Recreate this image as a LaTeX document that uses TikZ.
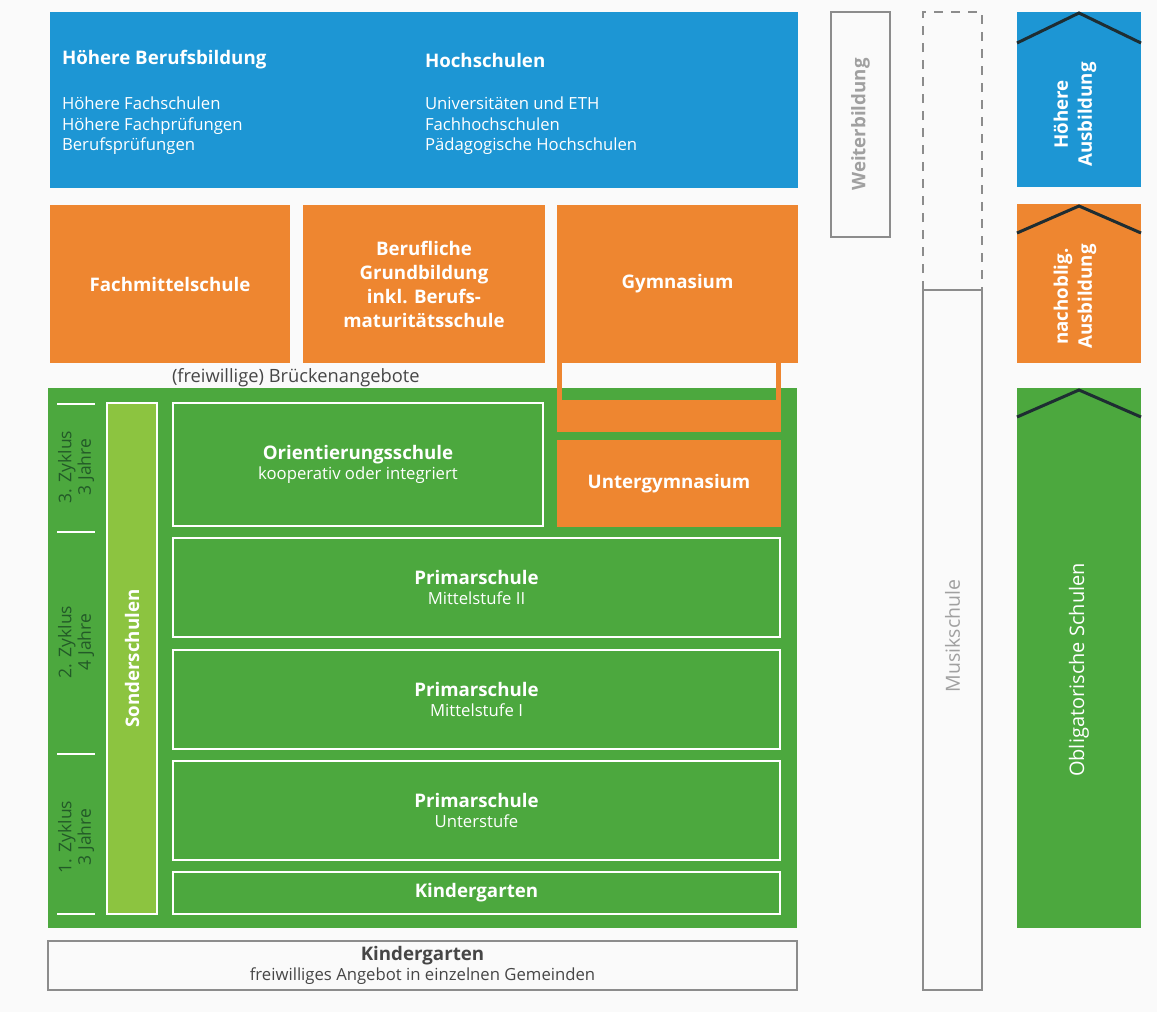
\documentclass[tikz,border=0pt]{standalone}
\usepackage{fontspec}
\setmainfont{Open Sans}
\usetikzlibrary{calc}
\definecolor{blau}{RGB}{29,150,212}
\definecolor{orange}{RGB}{238,134,48}
\definecolor{gruen}{RGB}{76,168,62}
\definecolor{hellgruen}{RGB}{140,196,64}
\definecolor{kante}{RGB}{30,45,50}
\definecolor{rand}{RGB}{140,140,140}
\definecolor{grautext}{RGB}{160,160,160}
\definecolor{dunkel}{RGB}{70,70,70}
\definecolor{zyklus}{RGB}{35,90,40}
\definecolor{papier}{RGB}{250,250,250}
\newcommand\kopf{\fontsize{18.7}{24}\selectfont\bfseries}
\newcommand\grund{\fontsize{16.7}{20.5}\selectfont}

\begin{document}
\begin{tikzpicture}[x=1pt,y=-1pt,
    every node/.style={inner sep=0pt, outer sep=0pt},
    feld/.style={fill=#1, text=white, align=center, font=\kopf},
    rahmen/.style={draw=white, line width=1.8pt, text=white, align=center, font=\grund},
    grau/.style={draw=rand, line width=1.4pt, fill=papier, align=center, font=\grund},
    hoch/.style={rotate=90, align=center},
    winkel/.style={draw=kante, line width=3pt}]
  \fill[papier] (0,0) rectangle (1157,1012);
  \useasboundingbox (0,0) rectangle (1157,1012);

  % Tertiaerstufe
  \node[feld=blau, minimum width=748, minimum height=176] (tertiaer) at (424,100) {};
  \node[anchor=west, text=white, font=\kopf] (hbb) at (62,60) {Höhere Berufsbildung};
  \node[anchor=west, text=white, font=\grund, align=left] (hbbliste) at (62,126)
    {Höhere Fachschulen\\Höhere Fachprüfungen\\Berufsprüfungen};
  \node[anchor=west, text=white, font=\kopf] (hs) at (425,60) {Hochschulen};
  \node[anchor=west, text=white, font=\grund, align=left] (hsliste) at (425,126)
    {Universitäten und ETH\\Fachhochschulen\\Pädagogische Hochschulen};

  % Sekundarstufe II
  \node[feld=orange, minimum width=240, minimum height=158] (fms) at (170,284) {Fachmittelschule};
  \node[feld=orange, minimum width=242, minimum height=158] (bgb) at (424,284)
    {Berufliche\\Grundbildung\\inkl. Berufs-\\maturitätsschule};
  \node[feld=orange, minimum width=241, minimum height=158] (gym) at (677.5,284) {Gymnasium};
  \node[anchor=west, text=dunkel, font=\fontsize{18.3}{22}\selectfont] (bruecke) at (172,378)
    {(freiwillige) Brückenangebote};

  % obligatorische Schulen
  \node[feld=gruen, minimum width=749, minimum height=540] (oblig) at (422.5,658) {};
  \fill[orange] (557,363) rectangle (562,432);
  \fill[orange] (776,363) rectangle (781,432);
  \fill[orange] (557,400) rectangle (781,432);
  \node[feld=orange, minimum width=224, minimum height=87] (ugym) at (669,483.5) {Untergymnasium};

  \node[rahmen, fill=hellgruen, rotate=90, minimum width=511, minimum height=50, font=\kopf]
    (sonder) at (132,658.5) {Sonderschulen};
  \foreach \t in {404,532,754,914}
    \draw[white, line width=1.8pt] (57,\t) -- (95,\t);
  \node[hoch, text=zyklus, font=\fontsize{17.5}{19.5}\selectfont] (z3) at (76,467) {3. Zyklus\\3 Jahre};
  \node[hoch, text=zyklus, font=\fontsize{17.5}{19.5}\selectfont] (z2) at (76,642) {2. Zyklus\\4 Jahre};
  \node[hoch, text=zyklus, font=\fontsize{17.5}{19.5}\selectfont] (z1) at (76,837) {1. Zyklus\\3 Jahre};

  \node[rahmen, minimum width=370, minimum height=123] (orient) at (358,464.5)
    {{\kopf Orientierungsschule}\\kooperativ oder integriert};
  \node[rahmen, minimum width=607, minimum height=99] (ms2) at (476.5,587.5)
    {{\kopf Primarschule}\\Mittelstufe II};
  \node[rahmen, minimum width=607, minimum height=99] (ms1) at (476.5,699.5)
    {{\kopf Primarschule}\\Mittelstufe I};
  \node[rahmen, minimum width=607, minimum height=99] (us) at (476.5,810.5)
    {{\kopf Primarschule}\\Unterstufe};
  \node[rahmen, minimum width=607, minimum height=42, font=\kopf] (kg) at (476.5,893) {Kindergarten};

  \node[grau, text=dunkel, minimum width=749, minimum height=49] (kiga) at (422.5,965.5)
    {{\kopf Kindergarten}\\freiwilliges Angebot in einzelnen Gemeinden};

  % Weiterbildung, Musikschule
  \node[grau, rotate=90, text=grautext, font=\kopf, minimum width=225, minimum height=59] (weiter)
    at (860.5,124.5) {Weiterbildung};
  \node[grau, rotate=90, text=grautext, font=\fontsize{19.5}{22}\selectfont,
    minimum width=700, minimum height=59] (musik) at (952.5,640) {};
  \node[hoch, text=grautext, font=\fontsize{19.5}{22}\selectfont] (musiktext)
    at ($(musik)+(0,-4)$) {Musikschule};
  \draw[rand, line width=1.4pt, dash pattern=on 9pt off 8pt]
    (musik.north east) -- ++(0,-278) -| (musik.south east);

  % Stufen rechts
  \node[feld=blau, rotate=90, minimum width=175, minimum height=124] (hoeh) at (1079,99.5) {};
  \node[feld=orange, rotate=90, minimum width=159, minimum height=124] (nach) at (1079,283.5) {};
  \node[feld=gruen, rotate=90, minimum width=540, minimum height=124] (schulen) at (1079,658) {};
  \node[hoch, text=white, font=\kopf] (hoehtext) at ($(hoeh)+(-4,15)$) {Höhere\\Ausbildung};
  \node[hoch, text=white, font=\kopf] (nachtext) at ($(nach)+(-4,13)$) {nachoblig.\\Ausbildung};
  \node[hoch, text=white, font=\fontsize{20}{24}\selectfont] (schulentext) at ($(schulen)+(0,12)$)
    {Obligatorische Schulen};
  \draw[winkel] ($(hoeh.north east)+(0,31)$) -- ($(hoeh.east)+(0,1)$) -- ($(hoeh.south east)+(0,31)$);
  \draw[winkel] ($(nach.north east)+(0,29)$) -- ($(nach.east)+(0,2)$) -- ($(nach.south east)+(0,29)$);
  \draw[winkel] ($(schulen.north east)+(0,29)$) -- ($(schulen.east)+(0,2)$) -- ($(schulen.south east)+(0,29)$);
\end{tikzpicture}
\end{document}
